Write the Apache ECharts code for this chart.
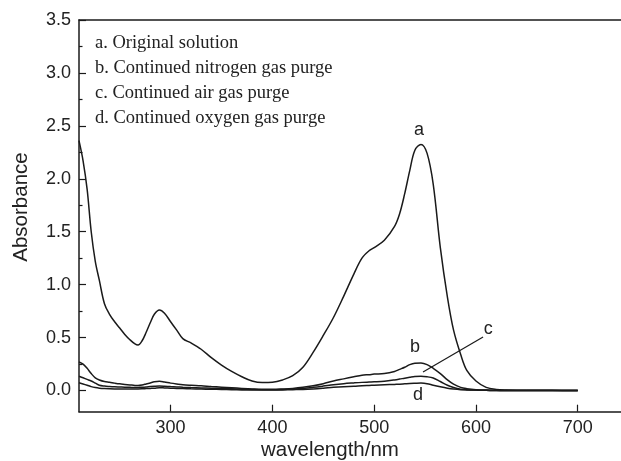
<!DOCTYPE html>
<html><head><meta charset="utf-8">
<script src="https://cdn.jsdelivr.net/npm/echarts@6/dist/echarts.min.js"></script>
<style>html,body{margin:0;padding:0;background:#fff}#c{width:621px;height:461px}</style>
</head><body><div id="c"></div>
<script>
const wavelengths = [210,214,218,222,226,230,235,240,245,250,255,260,265,268,272,276,280,284,289,294,300,306,312,320,330,340,350,360,370,380,390,400,410,420,430,440,450,460,470,480,488,495,500,510,520,525,530,535,540,546,552,558,565,572,578,585,591,600,610,620,630,650,675,700];
const curveA = [2.36,2.17,1.90,1.50,1.22,1.04,0.82,0.72,0.65,0.59,0.53,0.48,0.44,0.43,0.47,0.55,0.64,0.72,0.76,0.73,0.65,0.57,0.49,0.45,0.39,0.31,0.24,0.18,0.13,0.09,0.075,0.078,0.10,0.14,0.22,0.36,0.52,0.69,0.89,1.10,1.25,1.32,1.35,1.42,1.55,1.67,1.86,2.08,2.27,2.325,2.24,1.95,1.35,0.88,0.57,0.34,0.19,0.09,0.03,0.01,0.005,0.003,0.002,0.0];
const curveB = [0.27,0.25,0.21,0.16,0.12,0.10,0.085,0.078,0.07,0.063,0.058,0.053,0.048,0.047,0.052,0.062,0.072,0.082,0.087,0.08,0.07,0.062,0.055,0.05,0.045,0.038,0.032,0.026,0.02,0.015,0.012,0.012,0.015,0.02,0.03,0.045,0.065,0.09,0.11,0.13,0.145,0.15,0.155,0.16,0.18,0.2,0.22,0.245,0.258,0.26,0.245,0.21,0.16,0.10,0.06,0.03,0.018,0.008,0.004,0.002,0.0,0.0,0.0,0.0];
const curveC = [0.135,0.12,0.105,0.09,0.07,0.05,0.042,0.038,0.035,0.033,0.031,0.03,0.029,0.029,0.031,0.034,0.038,0.041,0.043,0.041,0.037,0.034,0.031,0.028,0.025,0.022,0.019,0.016,0.013,0.01,0.008,0.008,0.01,0.014,0.02,0.03,0.042,0.055,0.065,0.072,0.077,0.08,0.082,0.088,0.10,0.108,0.117,0.125,0.132,0.135,0.13,0.118,0.085,0.05,0.028,0.012,0.007,0.004,0.002,0.0,0.0,0.0,0.0,0.0];
const curveD = [0.073,0.062,0.05,0.037,0.028,0.022,0.018,0.016,0.015,0.015,0.015,0.015,0.015,0.015,0.016,0.018,0.02,0.022,0.027,0.025,0.022,0.02,0.018,0.016,0.014,0.012,0.01,0.008,0.006,0.005,0.004,0.004,0.006,0.008,0.01,0.015,0.022,0.03,0.036,0.04,0.045,0.048,0.05,0.054,0.058,0.06,0.063,0.066,0.068,0.07,0.065,0.05,0.035,0.022,0.014,0.008,0.006,0.004,0.002,0.0,0.0,0.0,0.0,0.0];
const legendLines = ['a. Original solution','b. Continued nitrogen gas purge','c. Continued air gas purge','d. Continued oxygen gas purge'];
const xTicks = [300,400,500,600,700];
const yTicks = [0,0.5,1.0,1.5,2.0,2.5,3.0,3.5];
const yMinorTicks = [0.25,0.75,1.25,1.75,2.25,2.75,3.25];
const curveLabels = [{t:'a',x:544,y:2.46},{t:'b',x:540,y:0.41},{t:'c',x:612,y:0.58},{t:'d',x:543,y:-0.04}];
const pointerLine = [[607,0.505],[548,0.175]];

const ink = '#1a1a1a';
const chart = echarts.init(document.getElementById('c'));
function pairs(ys){ return wavelengths.map((w,i)=>[w,ys[i]]); }
const lineSeries = [curveA,curveB,curveC,curveD].map(ys=>({
  type:'line', data:pairs(ys), smooth:0.35, showSymbol:false, symbol:'none',
  lineStyle:{color:ink,width:1.5}, xAxisIndex:0, yAxisIndex:0, animation:false
}));
chart.setOption({
  animation:false,
  grid:{left:79,right:0,top:20,bottom:49.3,containLabel:false},
  xAxis:[{
    type:'value', min:210, max:742.5, position:'bottom',
    axisLine:{show:true,onZero:false,lineStyle:{color:ink,width:1.5}},
    axisTick:{show:true,inside:true,length:7,customValues:xTicks,lineStyle:{color:ink,width:1.2}},
    axisLabel:{customValues:xTicks,color:'#222',fontSize:18,fontFamily:'Liberation Sans',margin:7},
    splitLine:{show:false}
  },{
    type:'value', min:210, max:742.5, position:'top',
    axisLine:{show:true,onZero:false,lineStyle:{color:ink,width:1.5}},
    axisTick:{show:false}, axisLabel:{show:false}, splitLine:{show:false}
  }],
  yAxis:[{
    type:'value', min:-0.2, max:3.5, position:'left',
    axisLine:{show:true,onZero:false,lineStyle:{color:ink,width:1.5}},
    axisTick:{show:true,inside:true,length:7,customValues:yTicks,lineStyle:{color:ink,width:1.2}},
    axisLabel:{customValues:yTicks,formatter:v=>v.toFixed(1),color:'#222',fontSize:18,fontFamily:'Liberation Sans',margin:8},
    splitLine:{show:false}
  },{
    type:'value', min:-0.2, max:3.5, position:'left', offset:0,
    axisLine:{show:false,onZero:false},
    axisTick:{show:true,inside:true,length:3.5,customValues:yMinorTicks,lineStyle:{color:ink,width:1.2}},
    axisLabel:{show:false}, splitLine:{show:false}
  }],
  series:lineSeries
});

const g = [];
legendLines.forEach((t,i)=>g.push({type:'text',x:95,y:42.7+25*i,style:{text:t,fill:'#222',font:'18.5px "Liberation Serif"',verticalAlign:'middle'}}));
g.push({type:'text',x:330,y:450,style:{text:'wavelength/nm',fill:'#222',font:'20.5px "Liberation Sans"',align:'center',verticalAlign:'middle'}});
g.push({type:'text',x:21,y:207,rotation:Math.PI/2,style:{text:'Absorbance',fill:'#222',font:'20.5px "Liberation Sans"',align:'center',verticalAlign:'middle'}});
curveLabels.forEach(l=>{
  const p = chart.convertToPixel({xAxisIndex:0,yAxisIndex:0},[l.x,l.y]);
  g.push({type:'text',x:p[0],y:p[1],style:{text:l.t,fill:'#222',font:'18px "Liberation Sans"',align:'center',verticalAlign:'middle'}});
});
const p1 = chart.convertToPixel({xAxisIndex:0,yAxisIndex:0},pointerLine[0]);
const p2 = chart.convertToPixel({xAxisIndex:0,yAxisIndex:0},pointerLine[1]);
g.push({type:'line',shape:{x1:p1[0],y1:p1[1],x2:p2[0],y2:p2[1]},style:{stroke:ink,lineWidth:1.2}});
chart.setOption({graphic:g});
</script></body></html>
